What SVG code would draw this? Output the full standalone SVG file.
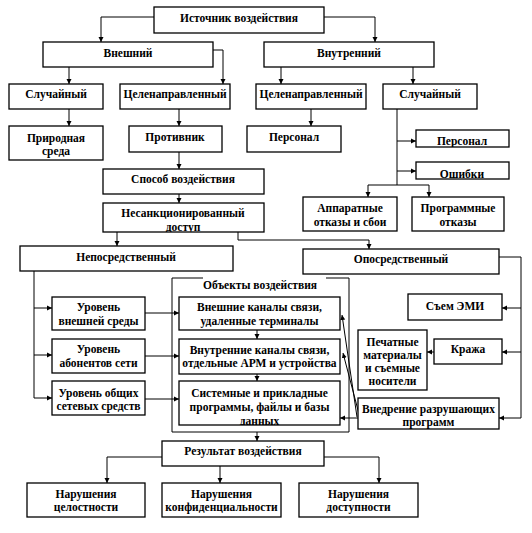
<svg xmlns="http://www.w3.org/2000/svg" width="532" height="533" viewBox="0 0 532 533">
<defs>
<style>
.b{fill:#fff;stroke:#000;stroke-width:1.3}
.t{font-family:"Liberation Serif","Times New Roman",serif;font-size:11.5px;font-weight:bold;fill:#000;text-anchor:middle}
.c{fill:none;stroke:#000;stroke-width:1}
.a{marker-end:url(#ah)}
</style>
<marker id="ah" markerWidth="6" markerHeight="6" refX="5" refY="3" orient="auto" markerUnits="userSpaceOnUse">
<path d="M0,0.5 L5,3 L0,5.5 Z" fill="#000"/>
</marker>
<clipPath id="c1"><rect x="103" y="203" width="161" height="29"/></clipPath>
<clipPath id="c2"><rect x="179" y="381" width="161" height="44"/></clipPath>
<clipPath id="c3"><rect x="416" y="162" width="93" height="17"/></clipPath>
<clipPath id="c4"><rect x="416" y="130" width="93" height="17"/></clipPath>
</defs>
<rect width="532" height="533" fill="#fff"/>

<g id="connectors">
<path class="c a" d="M154,17 H101 V42"/>
<path class="c a" d="M324,17 H375 V42"/>
<path class="c a" d="M69,67 V84"/>
<path class="c a" d="M213,50 H223 V84"/>
<path class="c a" d="M281,67 V84"/>
<path class="c a" d="M413,67 V84"/>
<path class="c a" d="M69,109 V126"/>
<path class="c a" d="M179,109 V126"/>
<path class="c a" d="M311,109 V126"/>
<path class="c" d="M397,109 V185"/>
<path class="c a" d="M397,141 H416"/>
<path class="c a" d="M397,171 H416"/>
<path class="c" d="M368,185 H429"/>
<path class="c a" d="M368,185 V197"/>
<path class="c a" d="M429,185 V197"/>
<path class="c a" d="M179,152 V169"/>
<path class="c a" d="M179,194 V203"/>
<path class="c a" d="M117,232 V246"/>
<path class="c a" d="M238,232 V240 H369 V249"/>
<path class="c" d="M34,271 V398"/>
<path class="c a" d="M34,308 H52"/>
<path class="c a" d="M34,355 H52"/>
<path class="c a" d="M34,398 H52"/>
<path class="c a" d="M145,313 H179"/>
<path class="c a" d="M145,356 H179"/>
<path class="c a" d="M145,399 H179"/>
<path class="c" d="M203,278 H172 V432 H349 V278 H326"/>
<path class="c a" d="M257,330 V339"/>
<path class="c a" d="M257,374 V381"/>
<path class="c a" d="M257,432 V441"/>
<path class="c a" d="M499,257 H521 V418 H499"/>
<path class="c a" d="M521,308 H502"/>
<path class="c a" d="M521,352 H502"/>
<path class="c a" d="M434,352 H427"/>
<path class="c a" d="M358,418 H340"/>
<path class="c a" d="M357,417 L342,315"/>
<path class="c a" d="M359,414 L343,353"/>
<path class="c a" d="M162,457 H107 V483"/>
<path class="c a" d="M220,466 V483"/>
<path class="c a" d="M324,457 H379 V483"/>
</g>

<g id="n-source"><rect class="b" x="154" y="7" width="170" height="26"/><text class="t" x="239" y="22">Источник воздействия</text></g>
<g id="n-ext"><rect class="b" x="43" y="42" width="170" height="25"/><text class="t" x="128" y="57">Внешний</text></g>
<g id="n-int"><rect class="b" x="264" y="42" width="170" height="25"/><text class="t" x="349" y="57">Внутренний</text></g>
<g id="n-ext-rand"><rect class="b" x="9" y="84" width="94" height="25"/><text class="t" x="56" y="98">Случайный</text></g>
<g id="n-ext-targ"><rect class="b" x="120" y="84" width="110" height="25"/><text class="t" x="175" y="98">Целенаправленный</text></g>
<g id="n-int-targ"><rect class="b" x="256" y="84" width="110" height="25"/><text class="t" x="311" y="98">Целенаправленный</text></g>
<g id="n-int-rand"><rect class="b" x="383" y="84" width="94" height="25"/><text class="t" x="430" y="98">Случайный</text></g>
<g id="n-nature"><rect class="b" x="9" y="126" width="94" height="34"/><text class="t" x="56" y="142">Природная</text><text class="t" x="56" y="155">среда</text></g>
<g id="n-enemy"><rect class="b" x="129" y="126" width="93" height="26"/><text class="t" x="175" y="141">Противник</text></g>
<g id="n-staff1"><rect class="b" x="247" y="126" width="94" height="26"/><text class="t" x="294" y="141">Персонал</text></g>
<g id="n-staff2"><rect class="b" x="416" y="130" width="93" height="17"/><text class="t" x="462" y="145" clip-path="url(#c4)">Персонал</text></g>
<g id="n-errors"><rect class="b" x="416" y="162" width="93" height="17"/><text class="t" x="462" y="178" clip-path="url(#c3)">Ошибки</text></g>
<g id="n-method"><rect class="b" x="103" y="169" width="161" height="25"/><text class="t" x="183" y="183">Способ воздействия</text></g>
<g id="n-unauth"><rect class="b" x="103" y="203" width="161" height="29"/><g clip-path="url(#c1)"><text class="t" x="183" y="217">Несанкционированный</text><text class="t" x="183" y="231">доступ</text></g></g>
<g id="n-hw"><rect class="b" x="303" y="197" width="94" height="34"/><text class="t" x="350" y="212">Аппаратные</text><text class="t" x="350" y="226">отказы и сбои</text></g>
<g id="n-sw"><rect class="b" x="412" y="197" width="92" height="34"/><text class="t" x="458" y="212">Программные</text><text class="t" x="458" y="226">отказы</text></g>
<g id="n-direct"><rect class="b" x="20" y="246" width="213" height="25"/><text class="t" x="126" y="261">Непосредственный</text></g>
<g id="n-indirect"><rect class="b" x="303" y="249" width="196" height="25"/><text class="t" x="401" y="263">Опосредственный</text></g>
<g id="n-objects-label"><text class="t" x="260" y="289">Объекты воздействия</text></g>
<g id="n-lvl1"><rect class="b" x="52" y="297" width="93" height="33"/><text class="t" x="98.5" y="311">Уровень</text><text class="t" x="98.5" y="325">внешней среды</text></g>
<g id="n-lvl2"><rect class="b" x="52" y="339" width="93" height="34"/><text class="t" x="98.5" y="353">Уровень</text><text class="t" x="98.5" y="367">абонентов сети</text></g>
<g id="n-lvl3"><rect class="b" x="52" y="381" width="93" height="34"/><text class="t" x="98.5" y="397">Уровень общих</text><text class="t" x="98.5" y="410">сетевых средств</text></g>
<g id="n-obj1"><rect class="b" x="179" y="297" width="161" height="33"/><text class="t" x="259.5" y="311">Внешние каналы связи,</text><text class="t" x="259.5" y="325">удаленные терминалы</text></g>
<g id="n-obj2"><rect class="b" x="179" y="339" width="161" height="35"/><text class="t" x="259.5" y="354">Внутренние каналы связи,</text><text class="t" x="259.5" y="367">отдельные АРМ и устройства</text></g>
<g id="n-obj3"><rect class="b" x="179" y="381" width="161" height="44"/><g clip-path="url(#c2)"><text class="t" x="259.5" y="397">Системные и прикладные</text><text class="t" x="259.5" y="411">программы, файлы и базы</text><text class="t" x="259.5" y="425">данных</text></g></g>
<g id="n-emi"><rect class="b" x="408" y="294" width="94" height="26"/><text class="t" x="455" y="310">Съем ЭМИ</text></g>
<g id="n-media"><rect class="b" x="358" y="330" width="69" height="60"/><text class="t" x="392.5" y="346">Печатные</text><text class="t" x="392.5" y="359">материалы</text><text class="t" x="392.5" y="372">и съемные</text><text class="t" x="392.5" y="385">носители</text></g>
<g id="n-theft"><rect class="b" x="434" y="339" width="68" height="25"/><text class="t" x="468" y="353">Кража</text></g>
<g id="n-malware"><rect class="b" x="358" y="398" width="141" height="31"/><text class="t" x="428.5" y="413">Внедрение разрушающих</text><text class="t" x="428.5" y="426">программ</text></g>
<g id="n-result"><rect class="b" x="162" y="441" width="162" height="25"/><text class="t" x="243" y="455">Результат воздействия</text></g>
<g id="n-integrity"><rect class="b" x="27" y="483" width="118" height="34"/><text class="t" x="86" y="498">Нарушения</text><text class="t" x="86" y="511">целостности</text></g>
<g id="n-conf"><rect class="b" x="162" y="483" width="119" height="34"/><text class="t" x="221.5" y="498">Нарушения</text><text class="t" x="221.5" y="511">конфиденциальности</text></g>
<g id="n-avail"><rect class="b" x="299" y="483" width="119" height="34"/><text class="t" x="358.5" y="498">Нарушения</text><text class="t" x="358.5" y="511">доступности</text></g>
</svg>
